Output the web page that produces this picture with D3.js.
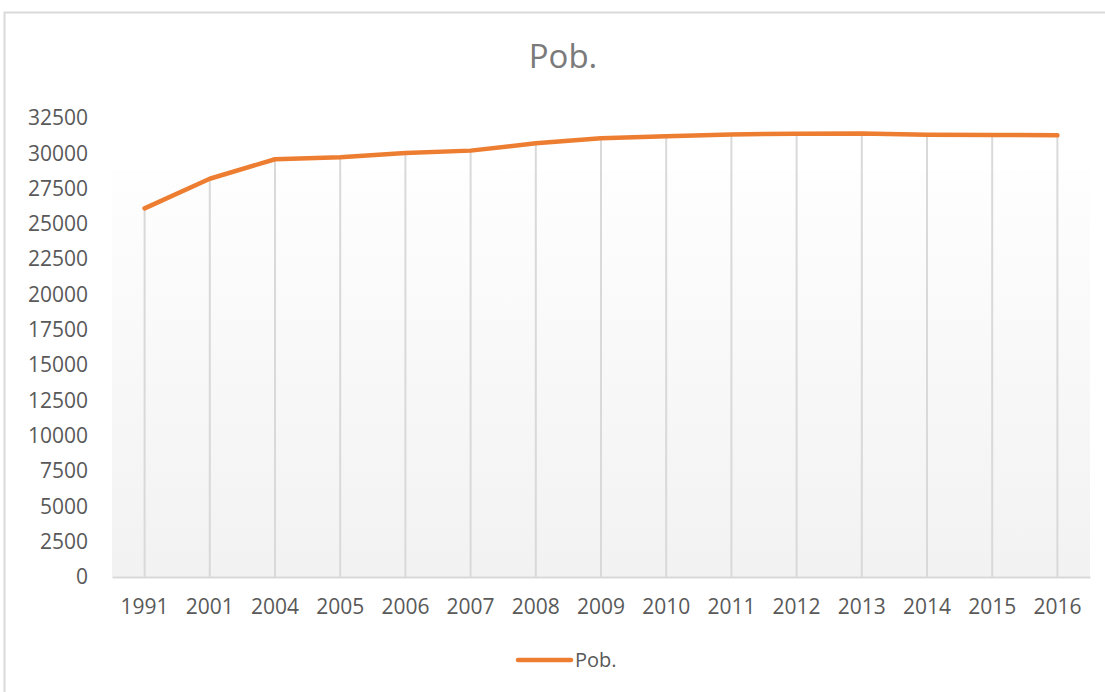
<!DOCTYPE html>
<html>
<head>
<meta charset="utf-8">
<script src="https://cdn.jsdelivr.net/npm/d3@7"></script>
<style>
  body { margin: 0; background: #fff; }
  text { font-family: "Open Sans", sans-serif; fill: #595959; }
</style>
</head>
<body>
<script>
// data
var years = ["1991", "2001", "2004", "2005", "2006", "2007", "2008", "2009",
             "2010", "2011", "2012", "2013", "2014", "2015", "2016"];
var pob = [26100, 28200, 29580, 29720, 30020, 30190, 30710, 31060,
           31200, 31340, 31390, 31410, 31320, 31300, 31270];
var yTicks = d3.range(0, 32501, 2500);
var seriesName = "Pob.";

function init() {
    var w = 1105;
    var h = 692;
    var svg = d3.select("body")
        .append("svg")
        .attr("width", w)
        .attr("height", h);

    // chart frame
    svg.append("rect")
        .attr("x", 4.5).attr("y", 12.5)
        .attr("width", 1110).attr("height", 700)
        .attr("fill", "#fff")
        .attr("stroke", "#d9d9d9")
        .attr("stroke-width", 2);

    var left = 112, right = 1090, top = 118, bottom = 577;

    var x = d3.scaleBand()
        .domain(years)
        .range([left, right])
        .padding(0);
    var y = d3.scaleLinear()
        .domain([0, 32500])
        .range([bottom, top]);

    // plot area gradient
    var defs = svg.append("defs");
    var grad = defs.append("linearGradient")
        .attr("id", "plotbg")
        .attr("x1", 0).attr("y1", 0).attr("x2", 0).attr("y2", 1);
    grad.append("stop").attr("offset", "0%").attr("stop-color", "#fefefe");
    grad.append("stop").attr("offset", "100%").attr("stop-color", "#f2f2f2");
    svg.append("rect")
        .attr("x", left).attr("y", 170)
        .attr("width", right - left).attr("height", bottom - 170)
        .attr("fill", "url(#plotbg)");

    var cx = function (d) { return x(d) + x.bandwidth() / 2; };

    // drop lines
    svg.selectAll("line.drop")
        .data(years)
        .enter()
        .append("line")
        .attr("class", "drop")
        .attr("x1", cx).attr("x2", cx)
        .attr("y1", function (d, i) { return y(pob[i]); })
        .attr("y2", y(0))
        .attr("stroke", "#d9d9d9")
        .attr("stroke-width", 2);

    // category axis
    var xAxis = svg.append("g")
        .attr("transform", "translate(0," + bottom + ")")
        .call(d3.axisBottom(x).tickSize(0).tickPadding(22));
    xAxis.select(".domain").attr("stroke", "#d9d9d9").attr("stroke-width", 2);
    xAxis.selectAll("text")
        .style("font-size", "21px")
        .style("font-family", "'Open Sans', sans-serif")
        .attr("fill", "#595959");

    // value axis
    var yAxis = svg.append("g")
        .attr("transform", "translate(" + 88 + ",0)")
        .call(d3.axisLeft(y).tickValues(yTicks).tickSize(0).tickPadding(0)
            .tickFormat(d3.format("d")));
    yAxis.select(".domain").remove();
    yAxis.selectAll("text")
        .style("font-size", "21px")
        .style("font-family", "'Open Sans', sans-serif")
        .attr("fill", "#595959");

    // line
    var line = d3.line()
        .x(function (d, i) { return cx(years[i]); })
        .y(function (d) { return y(d); });
    svg.append("path")
        .datum(pob)
        .attr("d", line)
        .attr("fill", "none")
        .attr("stroke", "#ED7D31")
        .attr("stroke-width", 4.5)
        .attr("stroke-linejoin", "round")
        .attr("stroke-linecap", "round");

    // title
    svg.append("text")
        .attr("x", 563).attr("y", 68)
        .attr("text-anchor", "middle")
        .style("font-size", "33px")
        .style("fill", "#7a7a7a")
        .text(seriesName);

    // legend
    svg.append("line")
        .attr("x1", 518).attr("x2", 571)
        .attr("y1", 660).attr("y2", 660)
        .attr("stroke", "#ED7D31")
        .attr("stroke-width", 4.5)
        .attr("stroke-linecap", "round");
    svg.append("text")
        .attr("x", 575).attr("y", 667)
        .style("font-size", "20px")
        .text(seriesName);
}
window.onload = init;
</script>
</body>
</html>
